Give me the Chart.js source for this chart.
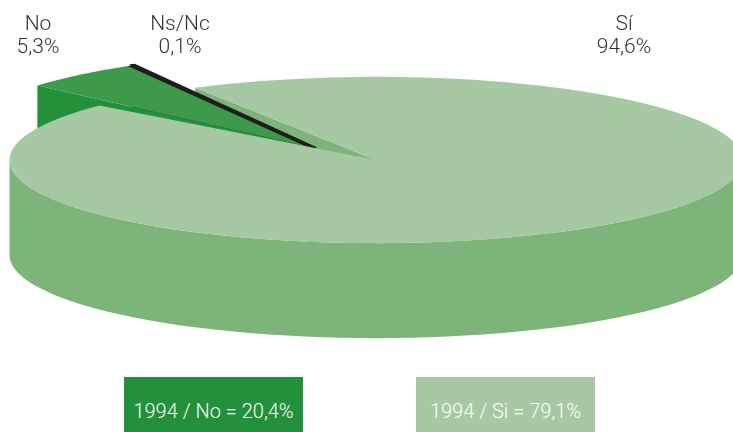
<!DOCTYPE html>
<html>
<head>
<meta charset="utf-8">
<script src="https://cdn.jsdelivr.net/npm/chart.js@4"></script>
<style>
  html, body { margin: 0; padding: 0; width: 733px; height: 432px; overflow: hidden; background: #fff; }
  #wrap { position: absolute; left: 0; top: 0; width: 741px; height: 741px; }
  .key { position: absolute; top: 377px; width: 179px; height: 68px;
         text-align: center; color: #fff; font: 300 20px Roboto, sans-serif; line-height: 68px; white-space: nowrap; }
</style>
</head>
<body>
<div id="wrap"><canvas id="myChart"></canvas></div>
<script>

// The pie - answers in percent

var labels = ['No', 'Ns/Nc', 'Sí'];
var values = [5.3, 0.1, 94.6];

// The two boxes under the pie - same question in 1994

var keyYear = '1994';
var keyLabels = ['No', 'Si'];
var keyValues = [20.4, 79.1];

// colours
var topColors = ['#3d9a4a', '#1d1d1b', '#a6c9a3'];
var sideColors = ['#23913a', '#1d1d1b', '#7db47a'];
var keyColors = ['#23913b', '#a6c9a3'];

// how the flat pie is laid down in 3D
var CX = 376, CY = 160, SQUASH = 0.227, DEPTH = 95;
var pulled = [true, true, false];
var PULL_X = -62, PULL_Y = -12, PULL_SQUASH = 0.26;
var labelPos = [[38, 30], [180, 30], [624, 30]];
var keyLeft = [124, 416];

function pct(v) {
  return v.toFixed(1).replace('.', ',') + '%';
}

function place(ctx, arc, k, x0, y0) {
  ctx.setTransform(1, 0, 0, k, x0 - arc.x, y0 - arc.y * k);
}

function wall(ctx, arc, a, b, d) {
  ctx.beginPath();
  ctx.arc(arc.x, arc.y, arc.outerRadius, a, b);
  ctx.arc(arc.x, arc.y + d, arc.outerRadius, b, a, true);
  ctx.closePath();
  ctx.fill();
}

function face(ctx, arc, ang, d) {
  var ox = arc.x + Math.cos(ang) * arc.outerRadius;
  var oy = arc.y + Math.sin(ang) * arc.outerRadius;
  ctx.beginPath();
  ctx.moveTo(arc.x, arc.y);
  ctx.lineTo(ox, oy);
  ctx.lineTo(ox, oy + d);
  ctx.lineTo(arc.x, arc.y + d);
  ctx.closePath();
  ctx.fill();
}

function faces(ctx, arc, d) {
  if (Math.cos(arc.startAngle) < 0) face(ctx, arc, arc.startAngle, d);
  if (Math.cos(arc.endAngle) > 0) face(ctx, arc, arc.endAngle, d);
}

function frontWalls(ctx, arc, d) {
  var T = Math.PI * 2;
  for (var n = Math.floor(arc.startAngle / T) - 1; n * T < arc.endAngle; n++) {
    var a = Math.max(arc.startAngle, n * T), b = Math.min(arc.endAngle, n * T + Math.PI);
    if (b > a) wall(ctx, arc, a, b, d);
  }
}

var pie3d = {
  id: 'pie3d',
  beforeDatasetsDraw: function (chart) {
    var ctx = chart.ctx;
    var arcs = chart.getDatasetMeta(0).data;
    var i, arc;
    ctx.save();

    // back faces of the big slice
    for (i = 0; i < arcs.length; i++) {
      if (pulled[i]) continue;
      arc = arcs[i];
      place(ctx, arc, SQUASH, CX, CY);
      ctx.fillStyle = sideColors[i];
      faces(ctx, arc, DEPTH / SQUASH);
    }

    // the pulled out piece
    for (i = arcs.length - 1; i >= 0; i--) {
      if (!pulled[i]) continue;
      arc = arcs[i];
      place(ctx, arc, PULL_SQUASH, CX + PULL_X, CY + PULL_Y);
      ctx.fillStyle = sideColors[i];
      faces(ctx, arc, DEPTH / PULL_SQUASH);
      frontWalls(ctx, arc, DEPTH / PULL_SQUASH);
    }
    for (i = 0; i < arcs.length; i++) {
      if (!pulled[i]) continue;
      place(ctx, arcs[i], PULL_SQUASH, CX + PULL_X, CY + PULL_Y);
      arcs[i].draw(ctx);
    }

    // the rest of the pie
    for (i = 0; i < arcs.length; i++) {
      if (pulled[i]) continue;
      arc = arcs[i];
      place(ctx, arc, SQUASH, CX, CY);
      ctx.fillStyle = sideColors[i];
      frontWalls(ctx, arc, DEPTH / SQUASH);
      arc.draw(ctx);
    }
    ctx.restore();
    return false;
  },
  afterDraw: function (chart) {
    var ctx = chart.ctx;
    ctx.save();
    ctx.fillStyle = '#333333';
    ctx.font = '300 21px Roboto, sans-serif';
    ctx.textAlign = 'center';
    ctx.textBaseline = 'alphabetic';
    for (var i = 0; i < labels.length; i++) {
      ctx.fillText(labels[i], labelPos[i][0], labelPos[i][1]);
      ctx.fillText(pct(values[i]), labelPos[i][0], labelPos[i][1] + 23);
    }
    ctx.restore();
  }
};

var ctx = document.getElementById('myChart');
var myChart = new Chart(ctx, {
  type: 'pie',
  data: {
    labels: labels,
    datasets: [
      {
        data: values,
        backgroundColor: topColors,
        borderColor: topColors,
        borderWidth: [0, 8, 0],
        borderJoinStyle: 'miter'
      }
    ]
  },
  options: {
    responsive: true,
    maintainAspectRatio: false,
    devicePixelRatio: 1,
    animation: false,
    rotation: -49,
    layout: { padding: 0 },
    plugins: {
      legend: { display: false },
      tooltip: { enabled: false }
    }
  },
  plugins: [pie3d]
});

// 1994 boxes
keyLabels.forEach(function (lab, i) {
  var div = document.createElement('div');
  div.className = 'key';
  div.style.left = keyLeft[i] + 'px';
  div.style.background = keyColors[i];
  div.textContent = keyYear + ' / ' + lab + ' = ' + pct(keyValues[i]);
  document.body.appendChild(div);
});
</script>
</body>
</html>
